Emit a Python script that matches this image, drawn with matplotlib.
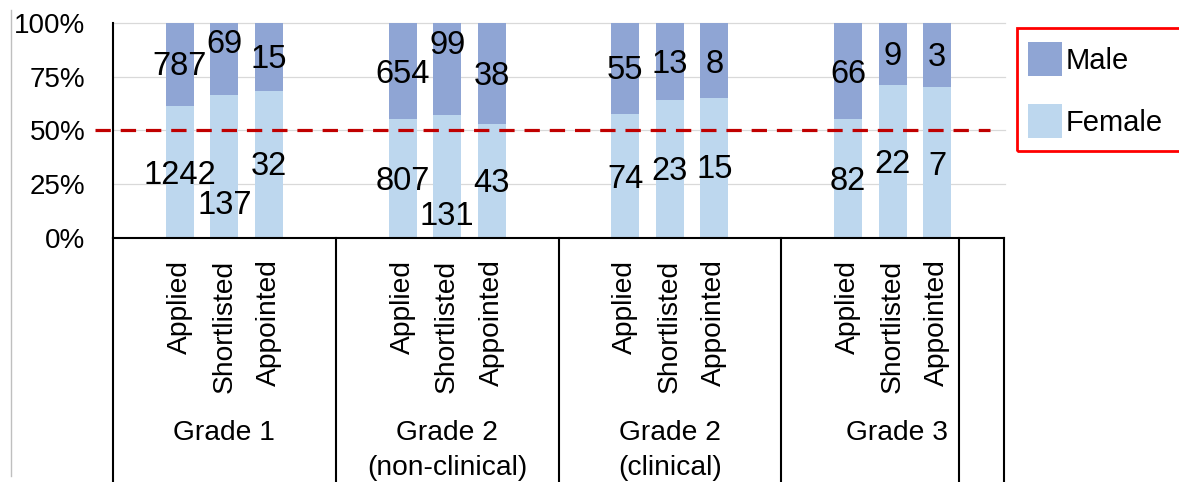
import matplotlib
matplotlib.use("Agg")
import matplotlib.pyplot as plt
from matplotlib.patches import Rectangle
import numpy as np

plt.rcParams['font.family'] = ['Liberation Sans', 'DejaVu Sans']

# data
groups = ['Grade 1', 'Grade 2\n(non-clinical)', 'Grade 2\n(clinical)', 'Grade 3']
stages = ['Applied', 'Shortlisted', 'Appointed']
female = [1242, 137, 32, 807, 131, 43, 74, 23, 15, 82, 22, 7]
male = [787, 69, 15, 654, 99, 38, 55, 13, 8, 66, 9, 3]
yticks = [0, 0.25, 0.5, 0.75, 1.0]
ytick_labels = ['0%', '25%', '50%', '75%', '100%']

# label heights (fraction of bar) as placed in the original
female_label_y = [0.292, 0.153, 0.331, 0.261, 0.099, 0.254, 0.274, 0.308, 0.316, 0.261, 0.343, 0.334]
male_label_y = [0.795, 0.899, 0.83, 0.761, 0.896, 0.752, 0.776, 0.807, 0.807, 0.761, 0.845, 0.838]

male_color = '#8FA5D4'
female_color = '#BDD7EE'

W, H = 1179, 482
fig = plt.figure(figsize=(W / 100, H / 100), dpi=100)

# plot area in pixels
left, right, top, bottom = 113, 1004, 22.7, 238
ax = fig.add_axes([left / W, 1 - bottom / H, (right - left) / W, (bottom - top) / H])

# slot layout: each group has an empty slot before its three bars
group_slots = [5, 5, 5, 4, 1]
starts = np.concatenate([[0], np.cumsum(group_slots)])
x = []
for g in range(4):
    for k in range(3):
        x.append(starts[g] + 1 + k + 0.5)
x = np.array(x)

f = np.array(female, dtype=float)
m = np.array(male, dtype=float)
tot = f + m
fs = f / tot
ms = m / tot

ax.bar(x, fs, width=0.63, color=female_color, zorder=2)
ax.bar(x, ms, width=0.63, bottom=fs, color=male_color, zorder=2)

for i in range(len(x)):
    ax.text(x[i], female_label_y[i], str(female[i]), ha='center', va='center',
            fontsize=23.5, zorder=5)
    ax.text(x[i], male_label_y[i], str(male[i]), ha='center', va='center',
            fontsize=23.5, zorder=5)

ax.set_xlim(0, starts[-1])
ax.set_ylim(0, 1)

# gridlines (extend a bit beyond the plot on the right)
for yv in yticks[1:]:
    ax.plot([0, starts[-1] + 0.03], [yv, yv], color='#D9D9D9', lw=0.9,
            clip_on=False, zorder=1)

# 50% reference line
ax.plot([-0.40, 19.69], [0.5, 0.5], color='#C00000', lw=2.3,
        dashes=(4.8, 3.1), clip_on=False, zorder=4)

ax.set_yticks(yticks)
ax.set_yticklabels(ytick_labels, fontsize=20)
ax.tick_params(axis='y', length=0, pad=20)
for t in ax.get_yticklabels():
    t.set_y(t.get_position()[1])

ax.set_xticks(x)
ax.set_xticklabels(stages * 4, rotation=90, fontsize=20.3)
ax.tick_params(axis='x', length=0, pad=15.5)

for s in ['top', 'right']:
    ax.spines[s].set_visible(False)
ax.spines['left'].set_linewidth(1.5)
ax.spines['bottom'].set_linewidth(1.5)

# category separators running down to the figure edge
xt = ax.get_xaxis_transform()
ph = bottom - top
sep_bottom = -(H - bottom) / ph
for s in starts:
    ax.plot([s, s], [0, sep_bottom], color='black', lw=1.5, transform=xt,
            clip_on=False, zorder=3)

# group labels, one text per line
group_x = [starts[0] + 2.5, starts[1] + 2.5, starts[2] + 2.5, starts[3] + 2.6]
for g in range(4):
    for j, line in enumerate(groups[g].split('\n')):
        ax.text(group_x[g], -(433 + 35 * j - bottom) / ph, line, transform=xt,
                ha='center', va='center', fontsize=20.3)

# thin gray border at the left of the chart area
fig.add_artist(plt.Line2D([11 / W, 11 / W], [1 - 10 / H, 1 - 476 / H],
                          color='#BFBFBF', lw=1, transform=fig.transFigure))

# legend box
def px(xp, yp):
    return xp / W, 1 - yp / H

fig.add_artist(Rectangle(px(1017, 151), (1190 - 1017) / W, (151 - 28) / H,
                         transform=fig.transFigure, fill=False,
                         edgecolor='#FF0000', lw=2))
fig.add_artist(Rectangle(px(1028, 76), 34 / W, 34 / H, transform=fig.transFigure,
                         facecolor=male_color, edgecolor='none'))
fig.add_artist(Rectangle(px(1028, 138), 34 / W, 34 / H, transform=fig.transFigure,
                         facecolor=female_color, edgecolor='none'))
fig.text(*px(1066, 61), 'Male', ha='left', va='center', fontsize=21)
fig.text(*px(1066, 123), 'Female', ha='left', va='center', fontsize=21)

fig.savefig('out.png', dpi=100)
